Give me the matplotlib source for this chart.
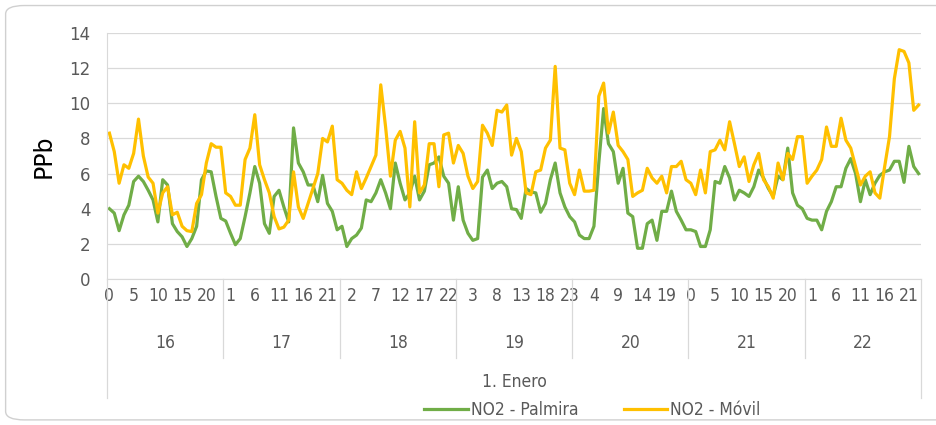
import matplotlib.pyplot as plt
import numpy as np
from matplotlib.patches import FancyBboxPatch
from matplotlib.transforms import blended_transform_factory

# días y horas (7 días x 24 horas)
days = ["16", "17", "18", "19", "20", "21", "22"]
hours = list(range(24))

# NO2 - Palmira (ppb), una fila por día
palmira = [
    4.0, 3.75, 2.75, 3.65, 4.2, 5.55, 5.85, 5.55, 5.05, 4.5, 3.25, 5.65,
    5.35, 3.15, 2.7, 2.4, 1.85, 2.3, 3.0, 5.65, 6.15, 6.1, 4.7, 3.45,
    3.3, 2.6, 1.95, 2.3, 3.55, 4.9, 6.4, 5.45, 3.15, 2.6, 4.7, 5.05,
    4.1, 3.25, 8.6, 6.6, 6.1, 5.35, 5.35, 4.4, 5.9, 4.3, 3.85, 2.8,
    3.0, 1.85, 2.3, 2.5, 2.9, 4.5, 4.4, 4.9, 5.65, 4.9, 4.0, 6.6,
    5.45, 4.5, 4.9, 5.85, 4.5, 5.0, 6.5, 6.6, 6.95, 5.85, 5.45, 3.35,
    5.25, 3.35, 2.6, 2.2, 2.3, 5.8, 6.2, 5.15, 5.45, 5.55, 5.25, 4.0,
    3.95, 3.45, 5.15, 4.95, 4.9, 3.8, 4.3, 5.65, 6.6, 4.9, 4.1, 3.55,
    3.25, 2.5, 2.3, 2.3, 3.0, 6.6, 9.7, 7.7, 7.25, 5.45, 6.3, 3.75,
    3.55, 1.75, 1.75, 3.15, 3.35, 2.2, 3.85, 3.85, 5.0, 3.85, 3.35, 2.8,
    2.8, 2.7, 1.85, 1.85, 2.8, 5.55, 5.45, 6.4, 5.75, 4.5, 5.05, 4.9,
    4.7, 5.25, 6.2, 5.75, 5.15, 4.7, 5.85, 5.65, 7.45, 4.9, 4.2, 4.0,
    3.45, 3.35, 3.35, 2.8, 3.85, 4.4, 5.25, 5.25, 6.3, 6.85, 6.0, 4.4,
    5.65, 4.8, 5.45, 5.9, 6.1, 6.2, 6.7, 6.7, 5.5, 7.55, 6.4, 6.0,
]

# NO2 - Móvil (ppb)
movil = [
    8.3, 7.25, 5.45, 6.5, 6.3, 7.15, 9.1, 7.0, 5.8, 5.45, 3.75, 4.9,
    5.25, 3.65, 3.8, 3.0, 2.75, 2.7, 4.3, 4.8, 6.6, 7.7, 7.5, 7.5,
    4.9, 4.7, 4.2, 4.2, 6.8, 7.45, 9.35, 6.5, 5.65, 4.9, 3.55, 2.85,
    2.95, 3.35, 6.1, 4.1, 3.45, 4.3, 5.15, 6.0, 8.0, 7.8, 8.7, 5.65,
    5.45, 5.05, 4.8, 6.1, 5.15, 5.75, 6.4, 7.05, 11.05, 8.65, 5.85, 7.9,
    8.4, 7.45, 4.1, 8.95, 4.9, 5.35, 7.7, 7.7, 5.25, 8.2, 8.3, 6.6,
    7.6, 7.15, 5.85, 5.15, 5.55, 8.75, 8.3, 7.6, 9.6, 9.5, 9.9, 7.05,
    8.0, 7.25, 4.9, 4.8, 6.1, 6.2, 7.45, 7.9, 12.1, 7.45, 7.35, 5.45,
    4.8, 6.2, 5.0, 5.0, 5.05, 10.4, 11.15, 8.3, 9.5, 7.6, 7.25, 6.8,
    4.7, 4.9, 5.05, 6.3, 5.75, 5.45, 5.85, 4.9, 6.4, 6.4, 6.7, 5.65,
    5.45, 4.8, 6.2, 4.9, 7.25, 7.35, 7.9, 7.35, 8.95, 7.7, 6.4, 6.95,
    5.55, 6.5, 7.15, 5.65, 5.25, 4.6, 6.6, 5.65, 7.15, 6.8, 8.1, 8.1,
    5.45, 5.85, 6.2, 6.8, 8.65, 7.55, 7.55, 9.15, 7.9, 7.45, 6.4, 5.35,
    5.85, 6.1, 4.9, 4.6, 6.4, 8.1, 11.4, 13.05, 12.95, 12.3, 9.6, 9.9,
]

green = "#70AD47"
yellow = "#FFC000"
txt = "#595959"
grid = "#D9D9D9"
narrow = dict(family="DejaVu Sans", stretch="condensed", color=txt, fontsize=12.5)

n = len(days) * len(hours)
x = np.arange(n)
hour_lab = [str(hours[i % 24]) for i in x]

fig = plt.figure(figsize=(9.36, 4.25), dpi=100)
ax = fig.add_axes([107 / 936, 1 - 279 / 425, (921 - 107) / 936, 246 / 425])

# borde redondeado del gráfico
fig.patches.append(FancyBboxPatch((0.006, 0.012), 1.2, 0.975, boxstyle="round,pad=0,rounding_size=0.02",
                                  transform=fig.transFigure, fc="none", ec="#D0D0D0", lw=1.0))

ax.plot(x, palmira, color=green, lw=2.3, label="NO2 - Palmira", solid_joinstyle="round")
ax.plot(x, movil, color=yellow, lw=2.3, label="NO2 - Móvil", solid_joinstyle="round")

ax.set_xlim(-0.5, n - 0.5)
ax.set_ylim(0, 14)
ax.set_yticks(np.arange(0, 15, 2))
ax.yaxis.grid(True, color=grid, lw=0.9)
ax.set_axisbelow(True)
ax.tick_params(axis="y", length=0, pad=12, labelcolor=txt, labelsize=12)

ax.set_xticks(x[::5])
ax.set_xticklabels([hour_lab[i] for i in x[::5]], **narrow)
ax.tick_params(axis="x", length=0, pad=6)

for s in ["top", "right"]:
    ax.spines[s].set_visible(False)
ax.spines["left"].set_color(grid)
ax.spines["bottom"].set_color(grid)

ax.set_ylabel("PPb", fontsize=17, color="black", labelpad=10)

tr = blended_transform_factory(ax.transData, ax.transAxes)
for k, d in enumerate(days):
    ax.text(k * 24 + 11.5, -0.262, d, transform=tr, ha="center", va="center", **narrow)
for k in range(len(days) + 1):
    xb = k * 24 - 0.5
    yend = -0.485 if k in (0, len(days)) else -0.32
    ax.plot([xb, xb], [0, yend], transform=tr, color=grid, lw=0.9, clip_on=False)

ax.text(n / 2 - 0.5, -0.42, "1. Enero", transform=tr, ha="center", va="center", **narrow)

leg = fig.legend(loc="center", bbox_to_anchor=(0.633, 1 - 410 / 425), ncol=2, frameon=False,
                 prop={"family": "DejaVu Sans", "stretch": "condensed", "size": 12.5},
                 handlelength=2.5, columnspacing=2.6, handletextpad=0.2)
for t in leg.get_texts():
    t.set_color(txt)

fig.savefig("out.png", dpi=100)
